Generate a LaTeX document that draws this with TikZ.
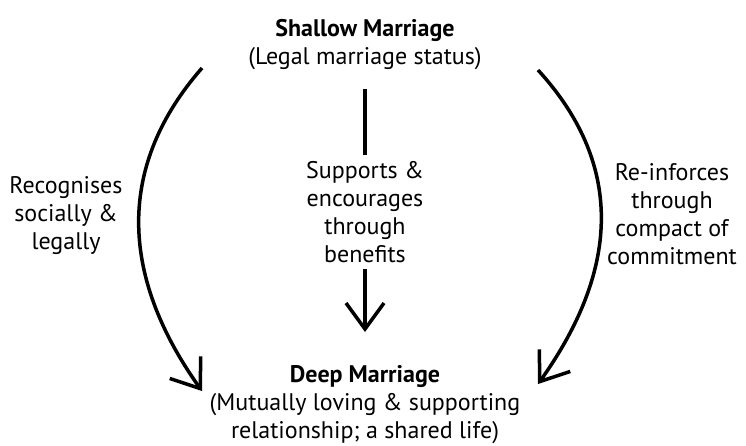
\documentclass[tikz,border=0pt]{standalone}
\usepackage{fontspec}
\setmainfont{PT Sans}
\usetikzlibrary{arrows.meta}
\begin{document}
\begin{tikzpicture}[x=1pt,y=-1pt,
  lbl/.style={align=center, font=\fontsize{24}{28}\selectfont, inner sep=0pt},
  conn/.style={line width=3.5pt},
  arr/.style={conn, -{Straight Barb[length=26pt,width=38pt,line width=3.5pt]}}]
\fill[white] (0,0) rectangle (746,445);
\useasboundingbox (0,0) rectangle (746,445);

\node[lbl] (shallow) at (365,45) {\textbf{Shallow Marriage}\\(Legal marriage status)};
\node[lbl] (deep) at (365,405) {\textbf{Deep Marriage}\\(Mutually loving \& supporting\\relationship; a shared life)};
\node[lbl, inner ysep=6pt] (mid) at (365,212) {Supports \&\\encourages\\through\\benefits};
\node[lbl] (left) at (66,216) {Recognises\\socially \&\\legally};
\node[lbl] (right) at (672,214) {Re-inforces\\through\\compact of\\commitment};

\coordinate (mtop) at (365,89);
\coordinate (mbot) at (365,332);
\coordinate (L1) at (202,68);
\coordinate (L2) at (202,391);
\coordinate (R1) at (538,70);
\coordinate (R2) at (538,384);

\draw[conn] (mtop) -- (mid);
\draw[arr] (mid) -- (mbot);
\draw[arr] (L1) .. controls (118,164) and (118,273) .. (L2);
\draw[arr] (R1) .. controls (622,162) and (622,266) .. (R2);
\end{tikzpicture}
\end{document}
